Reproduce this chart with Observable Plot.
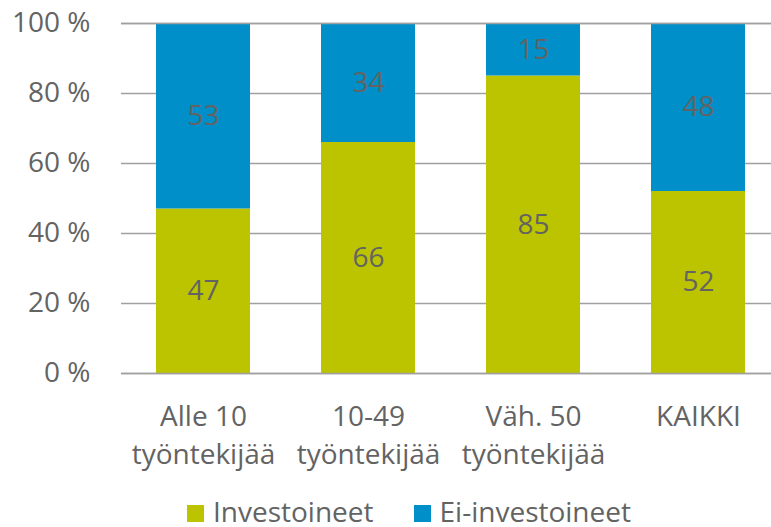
<!DOCTYPE html>
<html><head><meta charset="utf-8">
<script src="https://cdn.jsdelivr.net/npm/d3@7"></script>
<script src="https://cdn.jsdelivr.net/npm/@observablehq/plot@0.6"></script>
<style>
body{margin:0;background:#fff;font-family:"Open Sans",sans-serif;overflow:hidden;}
#chart svg{display:block;}
#legend{display:flex;align-items:center;padding-left:187px;height:34px;padding-top:4px;font-size:28px;line-height:34px;color:#636363;}
#legend .sw{width:17px;height:17px;margin-right:9px;margin-top:4px;display:inline-block;}
#legend .item{display:flex;align-items:center;margin-right:40px;}
</style></head><body>
<div id="chart"></div>
<div id="legend"></div>
<script>
const categories = ["Alle 10\ntyöntekijää", "10-49\ntyöntekijää", "Väh. 50\ntyöntekijää", "KAIKKI"];
const seriesNames = ["Investoineet", "Ei-investoineet"];
const investoineet = [47, 66, 85, 52];
const eiInvestoineet = [53, 34, 15, 48];
const yTicks = [0, 20, 40, 60, 80, 100];
const colors = ["#bcc400", "#008fc8"];

const data = [];
categories.forEach((c, i) => {
  data.push({cat: c, series: seriesNames[0], value: investoineet[i]});
  data.push({cat: c, series: seriesNames[1], value: eiInvestoineet[i]});
});

const textColor = "#636363";
const chart = Plot.plot({
  width: 771,
  height: 490,
  marginLeft: 121,
  marginRight: 0,
  marginTop: 23,
  marginBottom: 117,
  style: {fontFamily: "'Open Sans', sans-serif", fontSize: "28px", color: textColor, background: "#fff"},
  x: {domain: categories, range: [121, 781], paddingInner: 0.43, paddingOuter: 0.215},
  y: {domain: [0, 100]},
  color: {domain: seriesNames, range: colors},
  marks: [
    Plot.ruleY(yTicks, {stroke: "#a0a0a0", strokeWidth: 1.5}),
    Plot.barY(data, {x: "cat", y: "value", fill: "series", z: "series"}),
    Plot.ruleY([0, 100], {stroke: "#a0a0a0", strokeWidth: 1.5}),
    Plot.text(data, Plot.stackY({x: "cat", y: "value", z: "series", text: d => String(d.value), fill: textColor, fontSize: 28})),
    Plot.axisY({ticks: yTicks, tickFormat: d => d + " %", tickSize: 0, tickPadding: 31, fontSize: 28, label: null, fill: textColor}),
    Plot.axisX({tickSize: 0, tickPadding: 25, fontSize: 28, lineHeight: 1.36, label: null, fill: textColor})
  ]
});
document.getElementById("chart").appendChild(chart);

const legend = document.getElementById("legend");
seriesNames.forEach((s, i) => {
  const item = document.createElement("span");
  item.className = "item";
  const sw = document.createElement("span");
  sw.className = "sw";
  sw.style.background = colors[i];
  item.appendChild(sw);
  item.appendChild(document.createTextNode(s));
  legend.appendChild(item);
});
</script>
</body></html>
